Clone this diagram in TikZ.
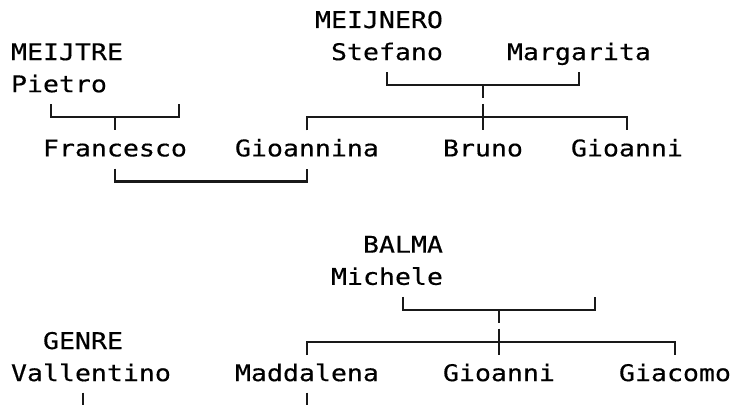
\documentclass[tikz,border=0pt]{standalone}
\usepackage{fontspec}
\newfontfamily\monof[FakeStretch=1.155,FakeBold=0.4]{DejaVu Sans Mono}
\begin{document}
\begin{tikzpicture}[x=1pt,y=-1pt,
  lbl/.style={anchor=base west,inner sep=0pt,outer sep=0pt,font=\monof\fontsize{23}{26}\selectfont,text=black},
  conn/.style={line width=2.1pt,draw=black!90,line join=miter}]
\clip (0,0) rectangle (733,404);
% top family
\node[lbl] (meijnero) at (315,28) {MEIJNERO};
\node[lbl] (meijtre) at (11,60.1) {MEIJTRE};
\node[lbl] (stefano) at (331,60.1) {Stefano};
\node[lbl] (margarita) at (507,60.1) {Margarita};
\node[lbl] (pietro) at (11,92.2) {Pietro};
\node[lbl] (francesco) at (43,156.4) {Francesco};
\node[lbl] (gioannina) at (235,156.4) {Gioannina};
\node[lbl] (bruno) at (443,156.4) {Bruno};
\node[lbl] (gioanniA) at (571,156.4) {Gioanni};
% bottom family
\node[lbl] (balma) at (363,252.7) {BALMA};
\node[lbl] (michele) at (331,284.8) {Michele};
\node[lbl] (genre) at (43,349) {GENRE};
\node[lbl] (vallentino) at (11,381.1) {Vallentino};
\node[lbl] (maddalena) at (235,381.1) {Maddalena};
\node[lbl] (gioanniB) at (443,381.1) {Gioanni};
\node[lbl] (giacomo) at (619,381.1) {Giacomo};
% coordinates
\coordinate (pA) at (51,104.3);  \coordinate (pB) at (51,117.3);
\coordinate (pC) at (179,117.3); \coordinate (pD) at (179,104.3);
\coordinate (pS) at (115,117.3); \coordinate (pT) at (115,130.3);
\coordinate (sA) at (387,72.2);  \coordinate (sB) at (387,85.2);
\coordinate (sC) at (579,85.2);  \coordinate (sD) at (579,72.2);
\coordinate (sS) at (483,85.2);  \coordinate (sT) at (483,98.2);
\coordinate (cA) at (307,130.3); \coordinate (cB) at (307,117.3);
\coordinate (cC) at (627,117.3); \coordinate (cD) at (627,130.3);
\coordinate (cS) at (483,103.8); \coordinate (cT) at (483,130.3);
\coordinate (mA) at (115,168.5); \coordinate (mB) at (115,181.5);
\coordinate (mC) at (307,181.5); \coordinate (mD) at (307,168.5);
\coordinate (bA) at (403,296.9); \coordinate (bB) at (403,309.9);
\coordinate (bC) at (595,309.9); \coordinate (bD) at (595,296.9);
\coordinate (bS) at (499,309.9); \coordinate (bT) at (499,322.9);
\coordinate (dA) at (307,355);   \coordinate (dB) at (307,342);
\coordinate (dC) at (675,342);   \coordinate (dD) at (675,355);
\coordinate (dS) at (499,328.5); \coordinate (dT) at (499,355);
\coordinate (vA) at (83,392.7);  \coordinate (vB) at (83,420);
\coordinate (wA) at (307,392.7); \coordinate (wB) at (307,420);
% connectors
\draw[conn] (pA) -- (pB) -- (pC) -- (pD);
\draw[conn] (pS) -- (pT);
\draw[conn] (sA) -- (sB) -- (sC) -- (sD);
\draw[conn] (sS) -- (sT);
\draw[conn] (cA) -- (cB) -- (cC) -- (cD);
\draw[conn] (cS) -- (cT);
\draw[conn] (mA) -- (mB) -- (mC) -- (mD);
\draw[conn] (bA) -- (bB) -- (bC) -- (bD);
\draw[conn] (bS) -- (bT);
\draw[conn] (dA) -- (dB) -- (dC) -- (dD);
\draw[conn] (dS) -- (dT);
\draw[conn] (vA) -- (vB);
\draw[conn] (wA) -- (wB);
\end{tikzpicture}
\end{document}
